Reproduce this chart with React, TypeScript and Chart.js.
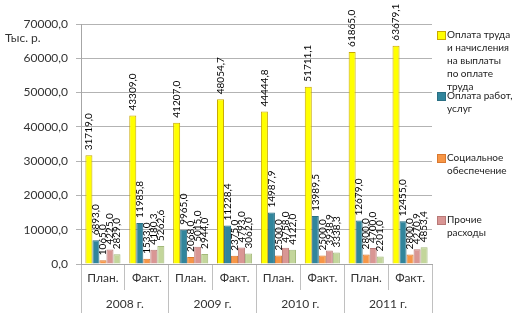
import React, { useEffect, useRef } from "react";
import { Chart, registerables } from "chart.js";

Chart.register(...registerables);

const categories = ["План.", "Факт.", "План.", "Факт.", "План.", "Факт.", "План.", "Факт."];
const years = ["2008 г.", "2009 г.", "2010 г.", "2011 г."];
const labourPay = [31719.0, 43309.0, 41207.0, 48054.7, 44444.8, 51711.1, 61865.0, 63679.1];
const services = [6893.0, 11985.8, 9965.0, 11228.4, 14987.9, 13989.5, 12679.0, 12455.0];
const social = [1065.0, 1533.0, 2068.0, 2375.0, 2500.0, 2500.0, 2800.0, 2800.0];
const other = [4225.0, 4180.3, 5015.0, 4793.0, 4758.0, 3938.9, 4700.0, 4270.9];
const fifth = [2829.0, 5262.6, 2944.0, 3062.0, 4122.0, 3338.3, 2201.0, 4853.4];
const seriesNames = [
  "Оплата труда и начисления на выплаты по оплате труда",
  "Оплата работ, услуг",
  "Социальное обеспечение",
  "Прочие расходы",
  "",
];
const yMin = 0;
const yMax = 70000;
const yStep = 10000;

const FONT = '"Lato", "DejaVu Sans", sans-serif';
const fills = ["#FFFF00", "#31859C", "#F79646", "#D99694", "#C3D69B"];
const borders = ["#C9A800", "#2A6F83", "#D9782F", "#B87977", "#A3B97A"];

const fmt = (v: number) => v.toFixed(1).replace(".", ",");

const labelPlugin = {
  id: "barLabels",
  afterDatasetsDraw(chart: any) {
    const ctx = chart.ctx;
    ctx.save();
    ctx.font = `10px ${FONT}`;
    ctx.fillStyle = "#000";
    ctx.textAlign = "left";
    ctx.textBaseline = "middle";
    chart.data.datasets.forEach((ds: any, di: number) => {
      const meta = chart.getDatasetMeta(di);
      meta.data.forEach((el: any, i: number) => {
        ctx.save();
        ctx.translate(el.x, el.y - 5);
        ctx.rotate(-Math.PI / 2);
        ctx.fillText(fmt(ds.data[i]), 0, 0);
        ctx.restore();
      });
    });
    ctx.restore();
  },
};

export default function App() {
  const ref = useRef<HTMLCanvasElement>(null);
  useEffect(() => {
    if (!ref.current) return;
    const series = [labourPay, services, social, other, fifth];
    const chart = new Chart(ref.current, {
      type: "bar",
      data: {
        labels: categories,
        datasets: series.map((d, i) => ({
          label: seriesNames[i],
          data: d,
          backgroundColor: fills[i],
          borderColor: borders[i],
          borderWidth: 1,
          barPercentage: 1,
          categoryPercentage: 0.8,
        })),
      },
      options: {
        animation: false,
        responsive: false,
        maintainAspectRatio: false,
        layout: { padding: { top: 24, right: 83, bottom: 18, left: 8 } },
        plugins: { legend: { display: false }, tooltip: { enabled: false } },
        scales: {
          x: {
            type: "category",
            position: "bottom",
            grid: { offset: true, drawOnChartArea: false, drawTicks: true, tickLength: 26, color: "#C0C0C0" },
            border: { display: true, color: "#A6A6A6" },
            ticks: { padding: -19, color: "#333", font: { family: FONT, size: 12 }, maxRotation: 0, autoSkip: false },
            afterFit: (s: any) => { s.height = 26; },
          },
          x2: {
            type: "category",
            position: "bottom",
            labels: years,
            grid: { offset: true, drawOnChartArea: false, drawTicks: true, tickLength: 23, color: "#C0C0C0" },
            border: { display: false },
            ticks: { padding: -16, color: "#333", font: { family: FONT, size: 12 }, maxRotation: 0, autoSkip: false },
            afterFit: (s: any) => { s.height = 23; },
          },
          y: {
            min: yMin,
            max: yMax,
            grid: { color: "#B3B3B3", tickLength: 5 },
            border: { color: "#A6A6A6" },
            ticks: { stepSize: yStep, padding: 8, color: "#333", font: { family: FONT, size: 12 }, callback: (v: any) => fmt(Number(v)) },
            afterFit: (s: any) => { s.width = 73; },
          },
        },
      },
      plugins: [labelPlugin],
    });
    return () => chart.destroy();
  }, []);

  const legendItems = [
    { lines: ["Оплата труда", "и начисления", "на выплаты", "по оплате", "труда"], top: 28, color: 0 },
    { lines: ["Оплата работ,", "услуг"], top: 89, color: 1 },
    { lines: ["Социальное", "обеспечение"], top: 151, color: 2 },
    { lines: ["Прочие", "расходы"], top: 213, color: 3 },
  ];

  return (
    <div style={{ position: "absolute", left: 0, top: 0, width: 515, height: 331, background: "#fff", fontFamily: FONT }}>
      <canvas ref={ref} width={515} height={331} style={{ position: "absolute", left: 0, top: 0 }} />
      <div style={{ position: "absolute", left: 5, top: 31, fontSize: 12, color: "#333", lineHeight: "14px" }}>Тыс. р.</div>
      {legendItems.map((it, k) => (
        <div key={k} style={{ position: "absolute", left: 437, top: it.top, fontSize: 10, color: "#222", lineHeight: "13px" }}>
          <div style={{ position: "absolute", left: 0, top: 3, width: 7, height: 7, background: fills[it.color], border: `1px solid ${borders[it.color]}` }} />
          <div style={{ marginLeft: 10 }}>
            {it.lines.map((l, j) => (
              <div key={j} style={{ whiteSpace: "nowrap" }}>{l}</div>
            ))}
          </div>
        </div>
      ))}
    </div>
  );
}
